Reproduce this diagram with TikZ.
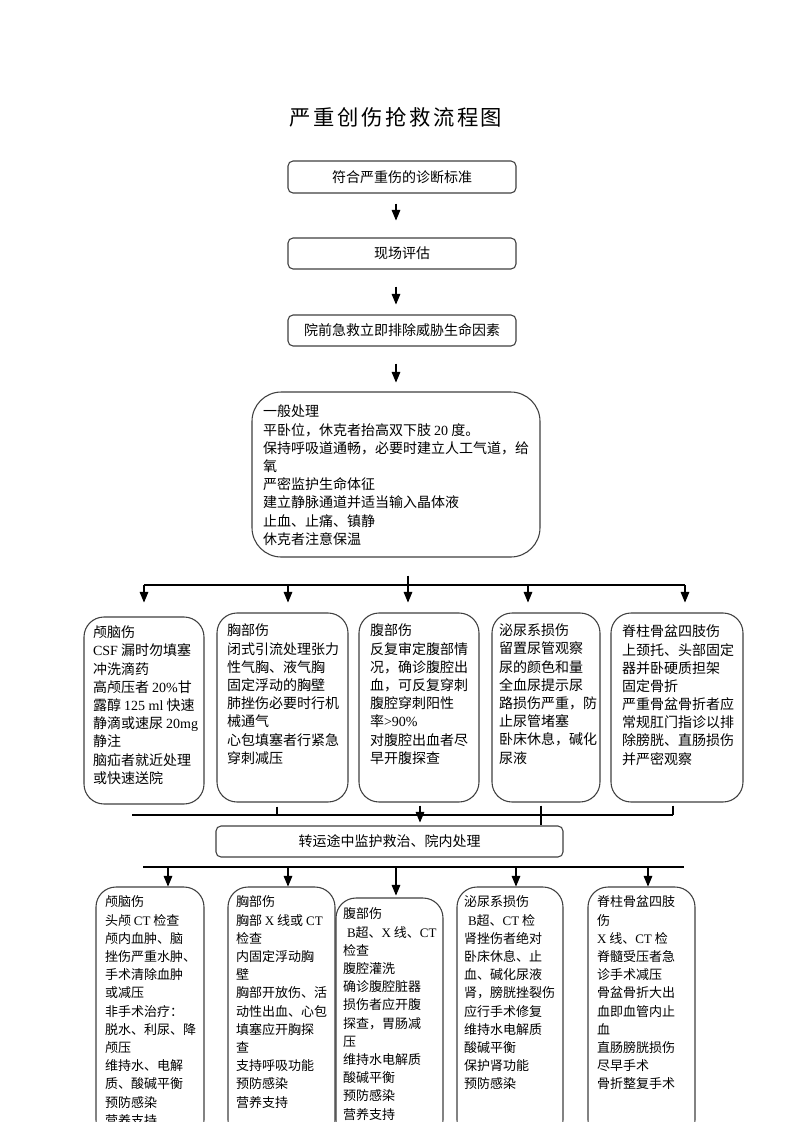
\documentclass[tikz,border=0pt]{standalone}
\usepackage{fontspec}
\setmainfont{Noto Sans CJK SC}
\newfontfamily\lat{Liberation Serif}
\newfontfamily\ttlfont[LetterSpace=12]{Noto Sans CJK SC}
\usetikzlibrary{arrows}
\newcommand\boxfont{\fontsize{10.5pt}{13.65pt}\selectfont}
\newcommand\lowfont{\fontsize{9.75pt}{13.65pt}\selectfont}

\begin{document}
\begin{tikzpicture}[->,
					>=triangle 45,
					x=0.75pt, y=-0.75pt,
					line width=0.8pt,
					tbox/.style={draw=black!75, rounded corners=3.75pt, inner sep=0pt, font=\boxfont},
					gbox/.style={draw=black!75, rounded corners=22pt, inner sep=0pt},
					rbox/.style={draw=black!75, rounded corners=15pt, inner sep=0pt},
					txt/.style={inner sep=0pt, anchor=north west, align=left, font=\boxfont},
					lowtxt/.style={txt, font=\lowfont}]

	\useasboundingbox[fill=white] (0,0) rectangle (793,1122);
	\clip (0,0) rectangle (793,1122);

	\node[font=\ttlfont\fontsize{16pt}{18pt}\selectfont] (title) at (396,117) {严重创伤抢救流程图};

	\node[tbox, minimum width=171pt, minimum height=24pt] (diag) at (402,177) {符合严重伤的诊断标准};
	\node[tbox, minimum width=171pt, minimum height=23.25pt] (scene) at (402,253.5) {现场评估};
	\node[tbox, minimum width=171pt, minimum height=23.25pt] (prehosp) at (402,330.5) {院前急救立即排除威胁生命因素};
	\node[gbox, minimum width=216pt, minimum height=123.75pt] (general) at (396,474.5) {};
	\node[txt] (generalt) at ([shift={(11,13)}]general.north west) {一般处理\\
平卧位，休克者抬高双下肢 {\lat 20} 度。\\
保持呼吸道通畅，必要时建立人工气道，给\\
氧\\
严密监护生命体征\\
建立静脉通道并适当输入晶体液\\
止血、止痛、镇静\\
休克者注意保温};

	% first row
	\node[rbox, minimum width=90pt, minimum height=140.25pt] (head1) at (144,710.5) {};
	\node[rbox, minimum width=98.25pt, minimum height=141.75pt] (chest1) at (282.5,707.5) {};
	\node[rbox, minimum width=90pt, minimum height=141.75pt] (abdo1) at (419,707.5) {};
	\node[rbox, minimum width=81pt, minimum height=141.75pt] (uri1) at (546,707.5) {};
	\node[rbox, minimum width=99pt, minimum height=141.75pt] (spine1) at (677,707.5) {};

	\node[txt] (head1t) at ([shift={(9,9)}]head1.north west) {颅脑伤\\
{\lat CSF} 漏时勿填塞\\
冲洗滴药\\
高颅压者 {\lat 20\%}甘\\
露醇 {\lat 125 ml} 快速\\
静滴或速尿 {\lat 20mg}\\
静注\\
脑疝者就近处理\\
或快速送院};
	\node[txt] (chest1t) at ([shift={(10,11)}]chest1.north west) {胸部伤\\
闭式引流处理张力\\
性气胸、液气胸\\
固定浮动的胸壁\\
肺挫伤必要时行机\\
械通气\\
心包填塞者行紧急\\
穿刺减压};
	\node[txt] (abdo1t) at ([shift={(11,11)}]abdo1.north west) {腹部伤\\
反复审定腹部情\\
况，确诊腹腔出\\
血，可反复穿刺\\
腹腔穿刺阳性\\
率{\lat >90\%}\\
对腹腔出血者尽\\
早开腹探查};
	\node[txt] (uri1t) at ([shift={(7,11)}]uri1.north west) {泌尿系损伤\\
留置尿管观察\\
尿的颜色和量\\
全血尿提示尿\\
路损伤严重，防\\
止尿管堵塞\\
卧床休息，碱化\\
尿液};
	\node[txt] (spine1t) at ([shift={(11,12)}]spine1.north west) {脊柱骨盆四肢伤\\
上颈托、头部固定\\
器并卧硬质担架\\
固定骨折\\
严重骨盆骨折者应\\
常规肛门指诊以排\\
除膀胱、直肠损伤\\
并严密观察};

	\node[tbox, minimum width=260.25pt, minimum height=23.25pt] (transfer) at (389.5,841.5) {转运途中监护救治、院内处理};

	% second row
	\node[rbox, minimum width=81pt, minimum height=189.75pt] (head2) at (150,1013.5) {};
	\node[rbox, minimum width=80.25pt, minimum height=189.75pt] (chest2) at (281.5,1013.5) {};
	\node[rbox, minimum width=80.25pt, minimum height=181.5pt] (abdo2) at (389.5,1019) {};
	\node[rbox, minimum width=79.5pt, minimum height=189.75pt] (uri2) at (510,1013.5) {};
	\node[rbox, minimum width=80.25pt, minimum height=189.75pt] (spine2) at (641.5,1013.5) {};

	\node[lowtxt] (head2t) at ([shift={(9,9)}]head2.north west) {颅脑伤\\
头颅 {\lat CT} 检查\\
颅内血肿、脑\\
挫伤严重水肿、\\
手术清除血肿\\
或减压\\
非手术治疗：\\
脱水、利尿、降\\
颅压\\
维持水、电解\\
质、酸碱平衡\\
预防感染\\
营养支持};
	\node[lowtxt] (chest2t) at ([shift={(8,9)}]chest2.north west) {胸部伤\\
胸部 {\lat X} 线或 {\lat CT}\\
检查\\
内固定浮动胸\\
壁\\
胸部开放伤、活\\
动性出血、心包\\
填塞应开胸探\\
查\\
支持呼吸功能\\
预防感染\\
营养支持};
	\node[lowtxt] (abdo2t) at ([shift={(7,10)}]abdo2.north west) {腹部伤\\
\hspace*{3pt}{\lat B}超、{\lat X} 线、{\lat CT}\\
检查\\
腹腔灌洗\\
确诊腹腔脏器\\
损伤者应开腹\\
探查，胃肠减\\
压\\
维持水电解质\\
酸碱平衡\\
预防感染\\
营养支持};
	\node[lowtxt] (uri2t) at ([shift={(7,9)}]uri2.north west) {泌尿系损伤\\
\hspace*{3pt}{\lat B}超、{\lat CT} 检\\
肾挫伤者绝对\\
卧床休息、止\\
血、碱化尿液\\
肾，膀胱挫裂伤\\
应行手术修复\\
维持水电解质\\
酸碱平衡\\
保护肾功能\\
预防感染};
	\node[lowtxt] (spine2t) at ([shift={(9,9)}]spine2.north west) {脊柱骨盆四肢\\
伤\\
{\lat X} 线、{\lat CT} 检\\
脊髓受压者急\\
诊手术减压\\
骨盆骨折大出\\
血即血管内止\\
血\\
直肠膀胱损伤\\
尽早手术\\
骨折整复手术};

	% connectors
	\coordinate (ax) at (396,0);
	\draw[shorten <=7.5pt, shorten >=12.75pt] (diag.south -| ax) -- (scene.north -| ax);
	\draw[shorten <=12.75pt, shorten >=7.5pt] (scene.south -| ax) -- (prehosp.north -| ax);
	\draw[shorten <=12.75pt, shorten >=6.75pt] (prehosp.south -| ax) -- (general.north -| ax);

	\coordinate (fC) at (408,585);
	\draw[-, shorten <=13.5pt] (general.south -| fC) -- (fC);
	\draw[shorten >=7.5pt] (fC) -- (fC |- abdo1.north);
	\foreach \n/\xx/\gap in {head/144/10.5, chest/288/7.5, uri/528/7.5, spine/685/7.5} {
		\coordinate (f\n) at (\xx,585);
		\draw[shorten >=\gap pt] (f\n) -- (f\n |- \n1.north);
	}
	\draw[-] (fhead) -- (fspine);

	\coordinate (gL) at (132,815);
	\coordinate (gB) at (277,815);
	\coordinate (gC) at (420,815);
	\coordinate (gD) at (541,815);
	\coordinate (gE) at (673,815);
	\draw[-] (gL) -- (gE);
	\draw[-, shorten <=3pt] (chest1.south -| gB) -- (gB);
	\draw[-, shorten <=2.25pt] (spine1.south -| gE) -- (gE);
	\draw[-, shorten <=2.25pt] (uri1.south -| gD) -- (transfer.north -| gD);
	\draw[shorten <=2.25pt, shorten >=2.25pt] (abdo1.south -| gC) -- (transfer.north -| gC);

	\coordinate (hL) at (143,867);
	\coordinate (hR) at (684,867);
	\draw[-] (hL) -- (hR);
	\foreach \n/\xx/\gap in {head/168/0, chest/288/0, abdo/396/1.5, uri/516/0, spine/648/0} {
		\coordinate (h\n) at (\xx,867);
		\draw[shorten >=\gap pt] (h\n) -- (h\n |- \n2.north);
	}
\end{tikzpicture}
\end{document}
